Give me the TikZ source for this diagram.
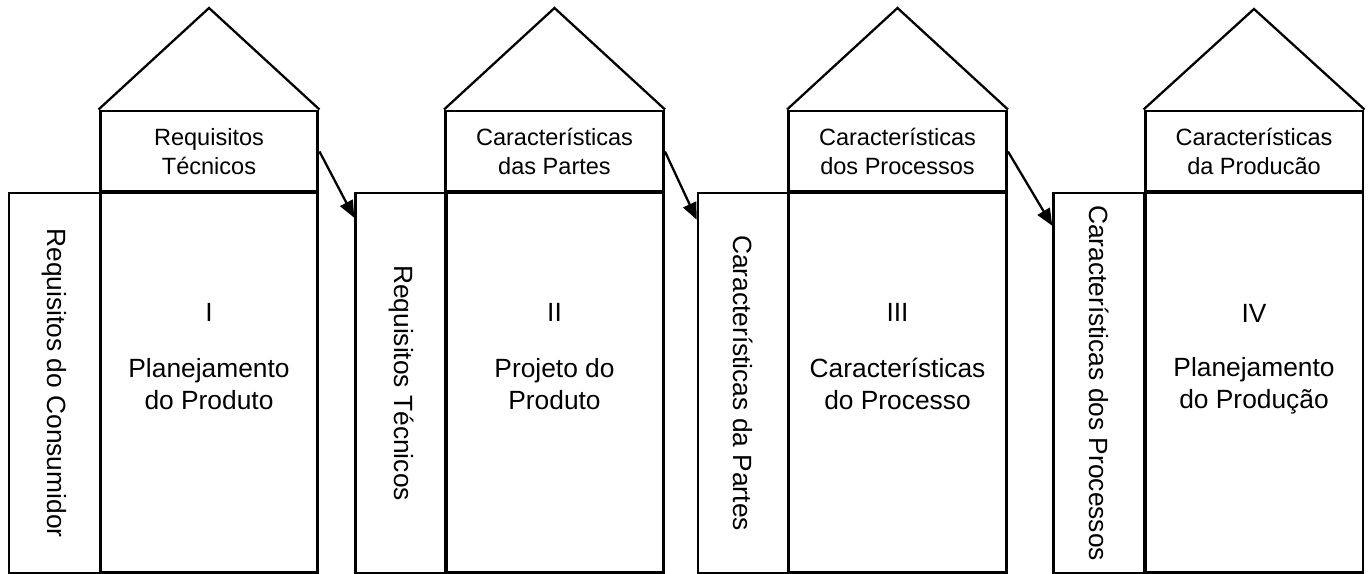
\documentclass[tikz,border=0pt]{standalone}
\usepackage{fontspec}
\setmainfont{Liberation Sans}
\usetikzlibrary{arrows.meta}

\tikzset{
  housebox/.style={draw, line width=1.7pt, inner sep=0pt},
  topbox/.style={housebox, minimum width=4.36cm, minimum height=1.62cm, align=center, font=\fontsize{13.4}{16.2}\selectfont},
  mainbox/.style={housebox, minimum width=4.36cm, minimum height=7.62cm},
  sidebox/.style={housebox, line width=1.4pt, minimum width=1.82cm, minimum height=7.6cm},
  sidetext/.style={rotate=-90, inner sep=0pt, font=\fontsize{15}{18}\selectfont},
  maintext/.style={align=center, inner sep=0pt, font=\fontsize{15}{18}\selectfont},
  roof/.style={line width=1.3pt},
  flow/.style={line width=1.3pt, -{Triangle[length=3.4mm,width=2.8mm]}},
}

\begin{document}
\begin{tikzpicture}[x=0.02cm, y=-0.02cm]
	\useasboundingbox (0,0) rectangle (1372,574);

	%house I
	\node[sidebox] (side1) at (54.5,383) {};
	\node[sidetext] (sidelabel1) at (side1.center) {Requisitos do Consumidor};
	\node[topbox] (top1) at (209,151.5) {Requisitos\\Técnicos};
	\node[mainbox] (main1) at (209,382.5) {};
	\coordinate (apex1) at (209,8);
	\draw[roof] (top1.north west) -- (apex1) -- (top1.north east);
	\node[maintext] (num1) at (209,312) {I};
	\node[maintext] (title1) at (209,384) {Planejamento\\do Produto};

	%house II
	\node[sidebox] (side2) at (401,383) {};
	\node[sidetext] (sidelabel2) at (side2.center) {Requisitos Técnicos};
	\node[topbox] (top2) at (554.5,151.5) {Características\\das Partes};
	\node[mainbox] (main2) at (554.5,382.5) {};
	\coordinate (apex2) at (554.5,8);
	\draw[roof] (top2.north west) -- (apex2) -- (top2.north east);
	\node[maintext] (num2) at (554.5,312) {II};
	\node[maintext] (title2) at (554.5,384) {Projeto do\\Produto};

	%house III
	\node[sidebox] (side3) at (743.5,383) {};
	\node[sidetext] (sidelabel3) at (side3.center) {Características da Partes};
	\node[topbox] (top3) at (897.5,151.5) {Características\\dos Processos};
	\node[mainbox] (main3) at (897.5,382.5) {};
	\coordinate (apex3) at (897.5,8);
	\draw[roof] (top3.north west) -- (apex3) -- (top3.north east);
	\node[maintext] (num3) at (897.5,312) {III};
	\node[maintext] (title3) at (897.5,384) {Características\\do Processo};

	%house IV
	\node[sidebox] (side4) at (1099,383) {};
	\node[sidetext] (sidelabel4) at (side4.center) {Características dos Processos};
	\node[topbox] (top4) at (1254,151.5) {Características\\da Producão};
	\node[mainbox] (main4) at (1254,382.5) {};
	\coordinate (apex4) at (1254,9);
	\draw[roof] (top4.north west) -- (apex4) -- (top4.north east);
	\node[maintext] (num4) at (1254,313) {IV};
	\node[maintext] (title4) at (1254,386) {Planejamento\\do Produção};

	%links between the houses
	\draw[flow] (top1.east) -- ([yshift=-0.52cm]side2.north west);
	\draw[flow] (top2.east) -- ([yshift=-0.56cm]side3.north west);
	\draw[flow] (top3.east) -- ([yshift=-0.68cm]side4.north west);

\end{tikzpicture}
\end{document}
